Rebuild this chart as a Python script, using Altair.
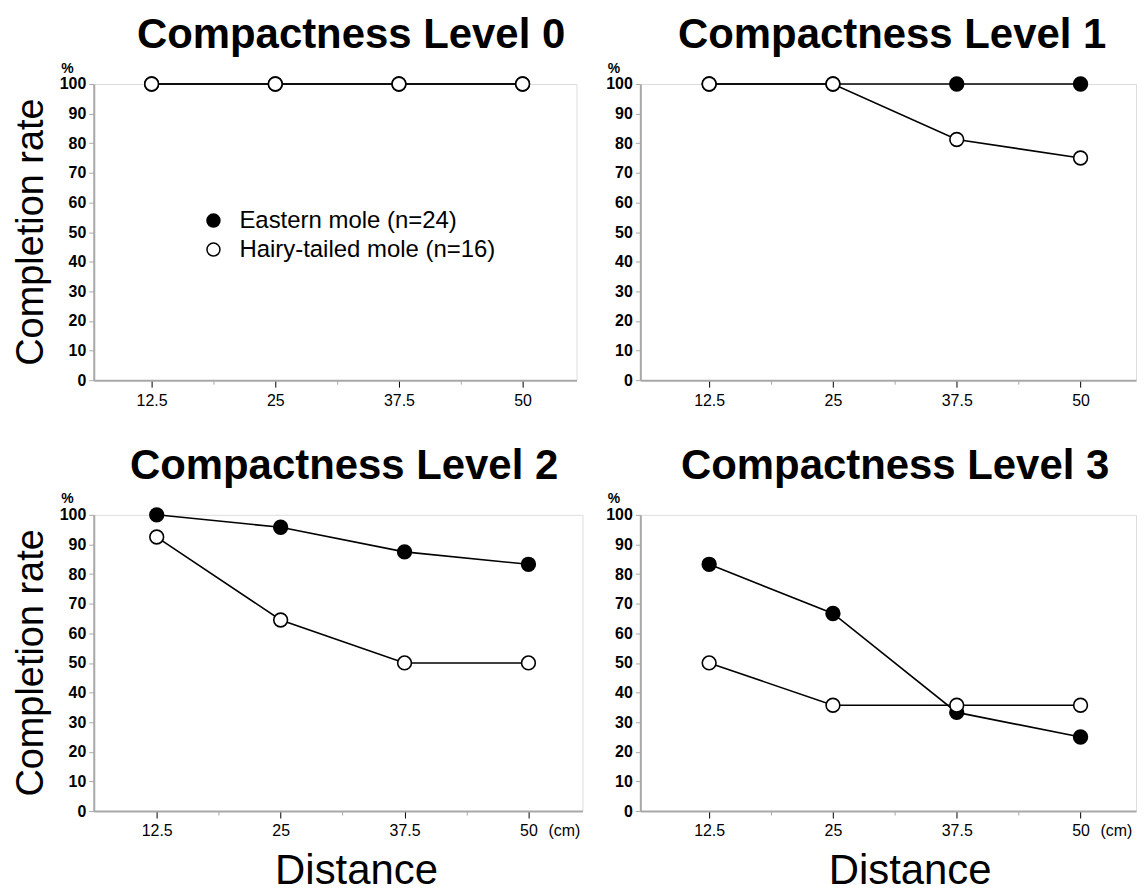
import altair as alt
import pandas as pd

# ---- data ----
distances = [12.5, 25, 37.5, 50]
species = ["Eastern mole (n=24)", "Hairy-tailed mole (n=16)"]
levels = ["Compactness Level 0", "Compactness Level 1", "Compactness Level 2", "Compactness Level 3"]

eastern_l0 = [100, 100, 100, 100]
hairy_l0 = [100, 100, 100, 100]
eastern_l1 = [100, 100, 100, 100]
hairy_l1 = [100, 100, 81.25, 75]
eastern_l2 = [100, 95.8, 87.5, 83.3]
hairy_l2 = [92.5, 64.5, 50, 50]
eastern_l3 = [83.3, 66.7, 33.3, 25]
hairy_l3 = [50, 35.7, 35.7, 35.7]

y_ticks = [0, 10, 20, 30, 40, 50, 60, 70, 80, 90, 100]
x_tick_values = [12.5, 18.75, 25, 31.25, 37.5, 43.75, 50]
y_title = ["Completion rate"]
x_title = "Distance"
unit_text = ["(cm)"]

H = 297
AXIS_GRAY = "#a8a8a8"
SANS = "Liberation Sans, Arial, sans-serif"
NARROW = "Liberation Sans Narrow, Liberation Sans, sans-serif"


def panel(title, eastern, hairy, left, bottom, legend, width, xdom, title_dx, xtitle_x):
    df = pd.DataFrame({
        "distance": distances + distances,
        "rate": eastern + hairy,
        "species": [species[0]] * 4 + [species[1]] * 4,
        "ord": [0] * 4 + [1] * 4,
    })
    base = alt.Chart(df)

    x_axis = alt.Axis(
        values=x_tick_values,
        labelExpr="datum.value % 12.5 == 0 ? format(datum.value, '~g') : ''",
        tickColor={"condition": {"test": "datum.value % 12.5 == 0", "value": "black"}, "value": AXIS_GRAY},
        tickSize={"condition": {"test": "datum.value % 12.5 == 0", "value": 7}, "value": 4},
        tickWidth=1,
        domainColor=AXIS_GRAY,
        domainWidth=2,
        grid=False,
        labelFont=SANS,
        labelFontSize=16,
        labelColor="black",
        labelPadding=5,
        labelFlush=False,
        title=x_title if bottom else None,
        titleFont=SANS,
        titleFontSize=42,
        titleFontWeight="normal",
        titleColor="black",
        titleX=xtitle_x,
        titleY=40,
        titleBaseline="top",
        titleAnchor="middle",
    )
    y_axis = alt.Axis(
        values=y_ticks,
        tickColor=AXIS_GRAY,
        tickSize=5,
        domainColor=AXIS_GRAY,
        domainWidth=2,
        grid=False,
        labelFont=NARROW,
        labelFontSize=16,
        labelFontWeight="bold",
        labelColor="black",
        labelPadding=3,
        title="%",
        titleAngle=0,
        titleX=-27,
        titleY=-12,
        titleAlign="center",
        titleBaseline="alphabetic",
        titleFont=SANS,
        titleFontSize=14,
        titleFontWeight="bold",
        titleColor="black",
    )
    x = alt.X("distance:Q", scale=alt.Scale(domain=xdom, nice=False, zero=False), axis=x_axis)
    y = alt.Y("rate:Q", scale=alt.Scale(domain=[0, 100], nice=False), axis=y_axis)

    lines = base.mark_line(color="black", strokeWidth=1.6).encode(
        x=x, y=y, detail="species:N", order="distance:Q"
    )
    if legend:
        leg = alt.Legend(
            orient="none", legendX=108, legendY=125, title=None,
            labelFont=SANS, labelFontSize=24, labelColor="black", labelLimit=500,
            symbolType="circle", symbolSize=170, symbolStrokeColor="black",
            symbolStrokeWidth=1.5, symbolOpacity=1, labelOffset=14,
            rowPadding=5, padding=0,
        )
    else:
        leg = None
    points = base.mark_point(
        shape="circle", filled=True, size=190, stroke="black", strokeWidth=1.6, opacity=1
    ).encode(
        x=x, y=y,
        fill=alt.Fill("species:N", scale=alt.Scale(domain=species, range=["black", "white"]), legend=leg),
        order=alt.Order("ord:Q"),
    )
    layers = [lines, points]
    if left:
        ylab = alt.Chart(pd.DataFrame({"t": y_title})).mark_text(
            angle=270, font=SANS, fontSize=38, color="black", align="center", baseline="middle"
        ).encode(text="t:N", x=alt.value(-62), y=alt.value(H / 2))
        layers.append(ylab)
    if bottom:
        cm = alt.Chart(pd.DataFrame({"t": unit_text})).mark_text(
            font=SANS, fontSize=16, color="black", align="center", baseline="top", dx=36
        ).encode(text="t:N", x=alt.datum(50), y=alt.value(H + 12))
        layers.append(cm)
    return alt.layer(*layers).properties(
        width=width, height=H,
        title=alt.TitleParams(
            title, font=SANS, fontSize=42, fontWeight="bold", color="black",
            anchor="middle", frame="group", baseline="alphabetic", offset=-29,
            dx=title_dx,
        ),
    )


p0 = panel(levels[0], eastern_l0, hairy_l0, True, False, True, 484, [6.65, 55.45], 16, 0)
p1 = panel(levels[1], eastern_l1, hairy_l1, False, False, False, 497, [5.55, 55.6], 4, 0)
p2 = panel(levels[2], eastern_l2, hairy_l2, True, True, False, 490, [6.15, 55.45], 6, 263)
p3 = panel(levels[3], eastern_l3, hairy_l3, False, True, False, 497, [5.55, 55.6], 7, 270)

chart = alt.concat(
    p0, p1, p2, p3, columns=2, spacing={"row": 135, "column": 58}, bounds="flush"
).resolve_scale(fill="independent").properties(
    padding={"left": 4, "top": 4, "right": 0, "bottom": 0}
).configure_view(stroke=None).configure(background="white")

chart.save("out.html", embed_options={"renderer": "svg", "actions": False})
